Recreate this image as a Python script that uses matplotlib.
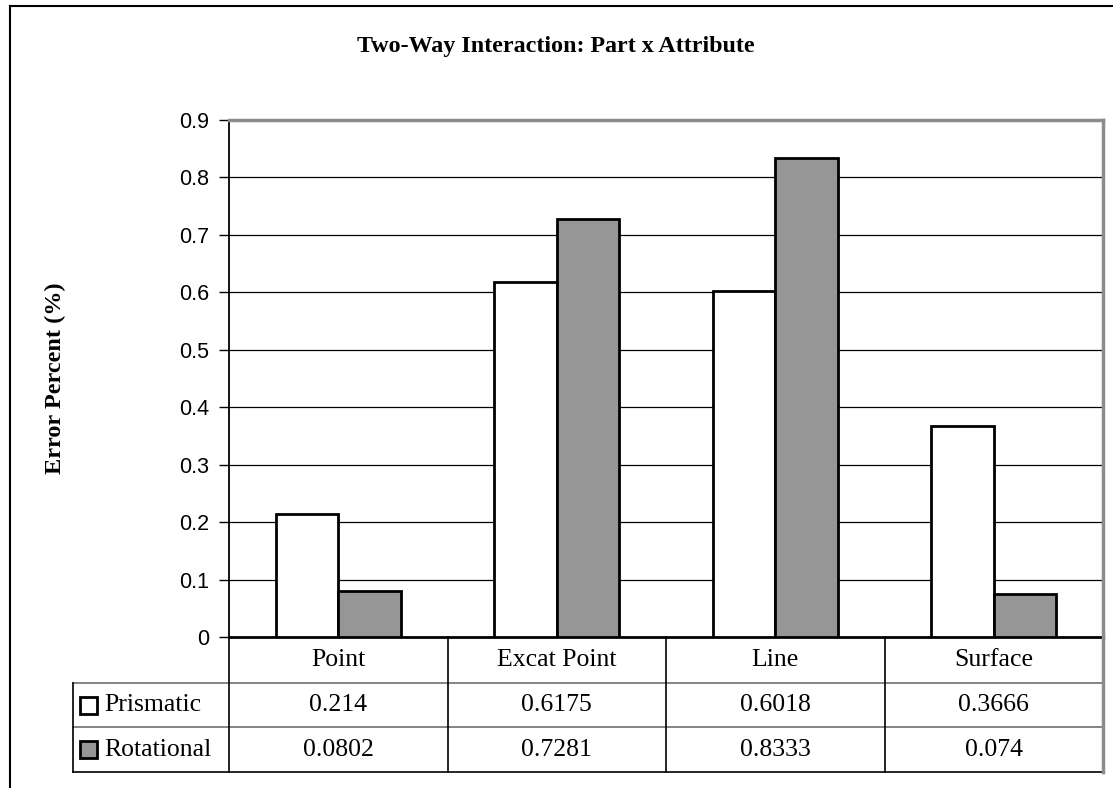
import numpy as np
import matplotlib.pyplot as plt
from matplotlib.lines import Line2D
from matplotlib.patches import Rectangle
from matplotlib.transforms import blended_transform_factory

# data
categories = ['Point', 'Excat Point', 'Line', 'Surface']
series_names = ['Prismatic', 'Rotational']
prismatic = [0.214, 0.6175, 0.6018, 0.3666]
rotational = [0.0802, 0.7281, 0.8333, 0.074]
cell_text = ['0.214', '0.6175', '0.6018', '0.3666'], ['0.0802', '0.7281', '0.8333', '0.074']
y_ticks = [0, 0.1, 0.2, 0.3, 0.4, 0.5, 0.6, 0.7, 0.8, 0.9]
y_tick_labels = ['0', '0.1', '0.2', '0.3', '0.4', '0.5', '0.6', '0.7', '0.8', '0.9']

fills = ['white', '#969696']
serif = 'Liberation Serif'
sans = 'Liberation Sans'

W, H = 1113, 788
fig = plt.figure(figsize=(W / 100, H / 100), dpi=100)
fig.patch.set_facecolor('white')

left, right, top, bottom = 229, 1103, 120, 637
ax = fig.add_axes([left / W, 1 - bottom / H, (right - left) / W, (bottom - top) / H])

x = np.arange(len(categories))
bw = 1 / 3.5
for i, vals in enumerate([prismatic, rotational]):
    ax.bar(x + (i - 0.5) * bw, vals, width=bw, color=fills[i],
           edgecolor='black', linewidth=2, zorder=3)

ax.set_xlim(-0.5, len(categories) - 0.5)
ax.set_ylim(0, 0.9)
ax.set_yticks(y_ticks)
ax.set_yticklabels(y_tick_labels, fontfamily=sans, fontsize=15.5)
ax.set_xticks([])
ax.tick_params(axis='y', direction='out', length=7, width=1, pad=7, color='black')
for y in y_ticks[1:-1]:
    ax.axhline(y, color='black', linewidth=0.9, zorder=1)

ax.spines['left'].set_color('black')
ax.spines['left'].set_linewidth(1.3)
ax.spines['bottom'].set_color('black')
ax.spines['bottom'].set_linewidth(2)
ax.spines['top'].set_color('#8c8c8c')
ax.spines['top'].set_linewidth(2.5)
ax.spines['right'].set_color('#8c8c8c')
ax.spines['right'].set_linewidth(2.5)

ax.set_ylabel('Error Percent (%)', fontfamily=serif, fontweight='bold', fontsize=17.5)
ax.yaxis.set_label_coords((66 - left) / (right - left), 0.5)

# data table under the plot area
tr = blended_transform_factory(ax.transData, ax.transAxes)
span = bottom - top
row_edges = [0, -46 / span, -90 / span, -135 / span]
x0, x1 = -0.5, len(categories) - 0.5
px = (right - left) / len(categories)
hdr = -0.5 - 156 / px

def seg(xs, ys, color='black', lw=1.2):
    ax.add_line(Line2D(xs, ys, transform=tr, color=color, linewidth=lw,
                       clip_on=False, zorder=5))

seg([hdr, x1], [row_edges[1]] * 2, color='#707070')
seg([hdr, x1], [row_edges[2]] * 2, color='#707070')
seg([hdr, x1], [row_edges[3]] * 2)
seg([hdr, hdr], [row_edges[1], row_edges[3]])
for b in np.arange(x0, x1, 1.0):
    seg([b, b], [0, row_edges[3]])
seg([x1, x1], [0, row_edges[3]], color='#8c8c8c', lw=2.5)

for j, cat in enumerate(categories):
    ax.text(j, (row_edges[0] + row_edges[1]) / 2, cat, transform=tr,
            ha='center', va='center', fontfamily=serif, fontsize=18.5)
    for r in range(2):
        ax.text(j, (row_edges[r + 1] + row_edges[r + 2]) / 2, cell_text[r][j],
                transform=tr, ha='center', va='center', fontfamily=serif, fontsize=18.5)

# row headers with legend keys
for r, name in enumerate(series_names):
    yc = (row_edges[r + 1] + row_edges[r + 2]) / 2
    kh = 17 / span
    ax.add_patch(Rectangle((hdr + 7 / px, yc - kh / 2), 17 / px, kh, transform=tr,
                           facecolor=fills[r], edgecolor='black', linewidth=2,
                           clip_on=False, zorder=5))
    ax.text(hdr + 31 / px, yc, name, transform=tr, ha='left', va='center',
            fontfamily=serif, fontsize=18.5)

fig.text(556 / W, 1 - 52 / H, 'Two-Way Interaction: Part x Attribute',
         ha='center', va='baseline', fontfamily=serif, fontweight='bold', fontsize=17.3)

# outer chart frame (left and top edges)
fig.add_artist(Line2D([10 / W, 10 / W], [0, 1 - 6 / H], color='black', linewidth=1.5))
fig.add_artist(Line2D([10 / W, 1], [1 - 6 / H, 1 - 6 / H], color='black', linewidth=1.5))

fig.savefig('out.png', dpi=100, facecolor='white')
